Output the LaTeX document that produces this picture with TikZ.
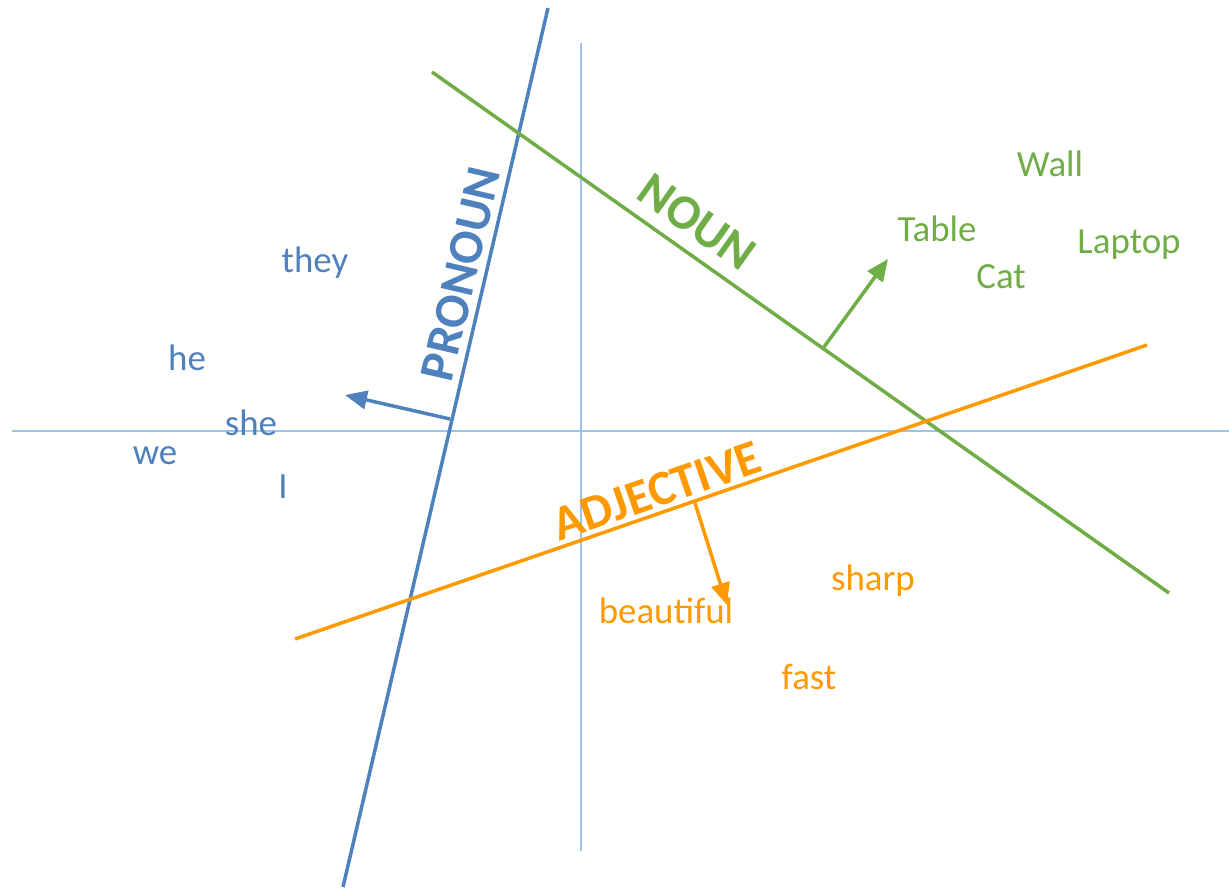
\documentclass[tikz,border=0pt]{standalone}
\usepackage{fontspec}
\setmainfont{Carlito}
\usetikzlibrary{arrows.meta}
\definecolor{pronblue}{RGB}{79,129,189}
\definecolor{noungreen}{RGB}{112,173,71}
\definecolor{adjorange}{RGB}{255,153,0}
\definecolor{axisblue}{RGB}{157,195,230}

\begin{document}
\begin{tikzpicture}[x=0.02cm, y=-0.02cm,
  axis/.style={draw=axisblue, line width=0.85pt},
  sep/.style={line width=2pt},
  word/.style={font=\fontsize{21}{21}\selectfont, inner sep=0pt},
  tag/.style={font=\fontsize{28}{28}\selectfont\bfseries, inner sep=0pt},
  tip/.style={-{Triangle[length=12.5pt,width=10.5pt]}}]
\useasboundingbox (0,0) rectangle (1229,891);

% Eixos
\coordinate (xl) at (12,431);
\coordinate (xr) at (1229,431);
\coordinate (yt) at (581,43);
\coordinate (yb) at (581,851);
\draw[axis] (xl) -- (xr);
\draw[axis] (yt) -- (yb);

% Pronome
\begin{scope}[pronblue]
\coordinate (p1) at (548,8);
\coordinate (p2) at (343,887);
\coordinate (pf) at (450,419);
\coordinate (pt) at (345,395);
\draw[sep] (p1) -- (p2);
\draw[sep, tip] (pf) -- (pt);
\node[tag, rotate=76.9] (pronoun) at (461,274) {PRONOUN};
\node[word] (they) at (315,263) {they};
\node[word] (he) at (187,358) {he};
\node[word] (she) at (251,423) {she};
\node[word] (we) at (155,456) {we};
\node[word] (i) at (283,487) {I};
\end{scope}

% Substantivo
\begin{scope}[noungreen]
\coordinate (n1) at (432,72);
\coordinate (n2) at (1169,593);
\coordinate (nf) at (824,347);
\coordinate (nt) at (888,259);
\draw[sep] (n1) -- (n2);
\draw[sep, tip] (nf) -- (nt);
\node[tag, rotate=-35.3] (noun) at (697,222) {NOUN};
\node[word] (wall) at (1050,164) {Wall};
\node[word] (table) at (937,229) {Table};
\node[word] (cat) at (1001,277) {Cat};
\node[word] (laptop) at (1129,245) {Laptop};
\end{scope}

% Adjetivo
\begin{scope}[adjorange]
\coordinate (a1) at (295,639);
\coordinate (a2) at (1147,345);
\coordinate (af) at (695,503);
\coordinate (at) at (727,605);
\draw[sep] (a1) -- (a2);
\node[tag, rotate=19] (adjective) at (657,491) {ADJECTIVE};
\node[word] (sharp) at (873,581) {sharp};
\node[word] (beautiful) at (666,611) {beautiful};
\node[word] (fast) at (809,677) {fast};
\draw[sep, tip] (af) -- (at);
\end{scope}
\end{tikzpicture}
\end{document}
